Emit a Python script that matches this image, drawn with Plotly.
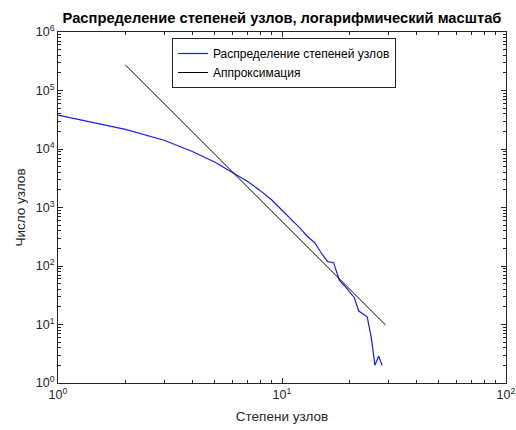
import plotly.graph_objects as go

degree = list(range(1, 29))
count = [38000, 21700, 14000, 9000, 6000, 3950, 2800, 1940, 1340, 896,
         630, 450, 320, 250, 165, 119, 114, 58, 46, 36,
         29, 17, 15, 13.5, 6.2, 2, 2.9, 2]

fit_x = [2, 29]
fit_y = [273000, 9.8]

x_tickvals = [1, 10, 100]
x_ticktext = ["10<sup>0</sup>", "10<sup>1</sup>", "10<sup>2</sup>"]
y_tickvals = [1, 10, 100, 1000, 10000, 100000, 1000000]
y_ticktext = ["10<sup>0</sup>", "10<sup>1</sup>", "10<sup>2</sup>", "10<sup>3</sup>",
              "10<sup>4</sup>", "10<sup>5</sup>", "10<sup>6</sup>"]

title_text = "Распределение степеней узлов, логарифмический масштаб"
x_title = "Степени узлов"
y_title = "Число узлов"
name_data = "Распределение степеней узлов"
name_fit = "Аппроксимация"

axcol = "#262626"
font = "Liberation Sans, Arial, sans-serif"


def minor_vals(decades):
    vals = []
    for d in range(decades):
        for k in range(2, 10):
            vals.append(k * 10 ** d)
    return vals


fig = go.Figure()
fig.add_trace(go.Scatter(x=degree, y=count, mode="lines", name=name_data,
                         line=dict(color="#1a1aff", width=1.2)))
fig.add_trace(go.Scatter(x=fit_x, y=fit_y, mode="lines", name=name_fit,
                         line=dict(color="#000000", width=1)))

axis_common = dict(
    type="log", showgrid=False, zeroline=False, automargin=False,
    showline=True, linecolor=axcol, linewidth=1, mirror="ticks",
    ticks="inside", ticklen=5, tickcolor=axcol, tickwidth=1,
    tickmode="array",
    tickfont=dict(family=font, size=12.5, color=axcol),
)

fig.update_layout(
    width=516, height=430,
    margin=dict(l=58, r=10, t=32, b=47),
    paper_bgcolor="white", plot_bgcolor="white",
    title=dict(text="<b>" + title_text + "</b>", x=(58 + 506) / 2 / 516, xanchor="center",
               y=1 - 18 / 430, yanchor="middle",
               font=dict(family=font, size=14.7, color="black")),
    xaxis=dict(axis_common, range=[0, 2], tickvals=x_tickvals, ticktext=x_ticktext,
               minor=dict(ticks="inside", ticklen=3, tickcolor=axcol, showgrid=False,
                          tickmode="array", tickvals=minor_vals(2)),
               title=dict(text=x_title, standoff=10,
                          font=dict(family=font, size=13.5, color=axcol))),
    yaxis=dict(axis_common, range=[0, 6], tickvals=y_tickvals, ticktext=y_ticktext,
               minor=dict(ticks="inside", ticklen=3, tickcolor=axcol, showgrid=False,
                          tickmode="array", tickvals=minor_vals(6)),
               title=dict(text=y_title, standoff=6,
                          font=dict(family=font, size=13.5, color=axcol))),
    legend=dict(x=(172 - 58) / 448, y=(383 - 38) / 351, xanchor="left", yanchor="top",
                bgcolor="white", bordercolor=axcol, borderwidth=1,
                font=dict(family=font, size=12, color="black"),
                tracegroupgap=0, itemwidth=30),
    showlegend=True,
)

fig.write_html("out.html")
